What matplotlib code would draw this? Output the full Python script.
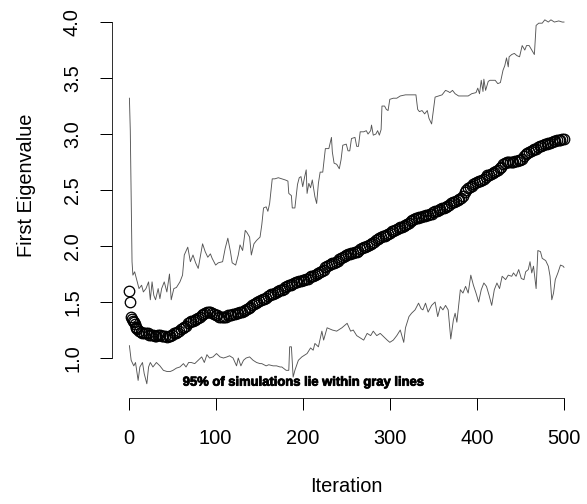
import matplotlib
matplotlib.use("Agg")
import matplotlib.pyplot as plt
import matplotlib.patheffects as pe

# First eigenvalue over iterations, with 95% simulation band
meanIter = [1, 2, 3, 4, 5, 6, 7, 8, 9] + list(range(10, 501, 2))
meanVal = [1.60, 1.50, 1.37, 1.35, 1.33, 1.32, 1.30, 1.28, 1.27,
           1.26, 1.24, 1.23, 1.22, 1.22, 1.22, 1.22, 1.21, 1.21, 1.21,
           1.20, 1.20, 1.21, 1.21, 1.20, 1.20, 1.20, 1.19, 1.20, 1.20,
           1.21, 1.22, 1.22, 1.23, 1.24, 1.26, 1.27, 1.28, 1.29, 1.31,
           1.32, 1.33, 1.33, 1.34, 1.35, 1.36, 1.37, 1.38, 1.39, 1.40,
           1.41, 1.41, 1.41, 1.40, 1.39, 1.38, 1.38, 1.37, 1.37, 1.37,
           1.37, 1.37, 1.38, 1.38, 1.38, 1.39, 1.39, 1.40, 1.40, 1.41,
           1.41, 1.42, 1.43, 1.44, 1.45, 1.46, 1.47, 1.48, 1.49, 1.50,
           1.51, 1.52, 1.53, 1.53, 1.54, 1.55, 1.56, 1.57, 1.57, 1.58,
           1.59, 1.60, 1.61, 1.61, 1.62, 1.63, 1.64, 1.65, 1.65, 1.66,
           1.67, 1.68, 1.68, 1.69, 1.69, 1.70, 1.70, 1.71, 1.71, 1.72,
           1.73, 1.73, 1.74, 1.75, 1.76, 1.77, 1.78, 1.79, 1.81, 1.82,
           1.83, 1.84, 1.85, 1.85, 1.86, 1.87, 1.88, 1.89, 1.90, 1.91,
           1.92, 1.93, 1.93, 1.94, 1.94, 1.95, 1.95, 1.96, 1.97, 1.98,
           1.99, 1.99, 2.00, 2.01, 2.02, 2.03, 2.04, 2.05, 2.06, 2.07,
           2.08, 2.09, 2.09, 2.10, 2.11, 2.12, 2.13, 2.13, 2.14, 2.15,
           2.16, 2.17, 2.17, 2.18, 2.19, 2.20, 2.21, 2.22, 2.23, 2.24,
           2.25, 2.25, 2.26, 2.26, 2.27, 2.27, 2.28, 2.28, 2.29, 2.29,
           2.30, 2.31, 2.31, 2.32, 2.33, 2.34, 2.34, 2.35, 2.36, 2.37,
           2.38, 2.39, 2.39, 2.40, 2.41, 2.42, 2.43, 2.45, 2.48, 2.50,
           2.52, 2.53, 2.54, 2.55, 2.56, 2.57, 2.58, 2.58, 2.59, 2.60,
           2.62, 2.63, 2.63, 2.64, 2.65, 2.66, 2.67, 2.68, 2.70, 2.71,
           2.73, 2.74, 2.75, 2.75, 2.75, 2.75, 2.75, 2.76, 2.76, 2.77,
           2.77, 2.78, 2.80, 2.82, 2.83, 2.84, 2.85, 2.86, 2.87, 2.87,
           2.88, 2.89, 2.89, 2.90, 2.91, 2.91, 2.92, 2.92, 2.93, 2.94,
           2.94, 2.95, 2.95, 2.95, 2.96, 2.96]

upperIter = [1, 2, 4, 5, 7, 10, 12, 15, 17, 20, 23, 25, 27, 29, 31, 34, 36, 38, 41, 44, 47, 49, 52,
             55, 59, 62, 64, 68, 71, 74, 77, 80, 82, 85, 88, 91, 94, 96, 100, 103, 108, 111, 114,
             117, 119, 123, 126, 128, 131, 134, 136, 139, 141, 144, 147, 151, 153, 155, 158, 160,
             162, 165, 168, 172, 176, 180, 183, 184, 187, 188, 191, 194, 196, 198, 200, 202, 204,
             205, 207, 209, 211, 214, 216, 218, 220, 223, 226, 230, 233, 234, 236, 239, 242, 244,
             246, 250, 252, 254, 256, 260, 262, 264, 266, 270, 273, 275, 278, 279, 281, 284, 286,
             288, 290, 291, 294, 296, 298, 300, 304, 308, 312, 318, 325, 330, 332, 334, 337, 340,
             343, 345, 348, 350, 352, 356, 360, 364, 367, 369, 372, 375, 379, 385, 390, 394, 399,
             401, 403, 405, 407, 408, 410, 413, 415, 418, 421, 424, 427, 430, 432, 434, 436, 437,
             440, 443, 446, 449, 452, 455, 457, 460, 463, 466, 468, 471, 475, 478, 482, 485, 489,
             494, 498, 500]
upperVal = [3.32, 3.03, 1.86, 1.74, 1.77, 1.68, 1.62, 1.65, 1.59, 1.62, 1.68, 1.52, 1.68, 1.56, 1.52,
            1.62, 1.53, 1.62, 1.68, 1.59, 1.75, 1.52, 1.62, 1.63, 1.68, 1.74, 1.92, 1.99, 1.86, 1.92,
            1.85, 1.80, 1.89, 2.02, 1.95, 1.90, 1.93, 1.89, 1.83, 1.85, 1.86, 1.98, 2.07, 1.95, 1.85,
            1.83, 1.92, 2.01, 1.96, 2.14, 2.12, 2.08, 1.92, 2.02, 2.05, 2.08, 2.19, 2.34, 2.35, 2.31,
            2.38, 2.60, 2.60, 2.61, 2.60, 2.59, 2.58, 2.47, 2.45, 2.34, 2.34, 2.55, 2.61, 2.62, 2.53,
            2.61, 2.68, 2.47, 2.56, 2.52, 2.59, 2.44, 2.38, 2.56, 2.66, 2.66, 2.87, 2.87, 2.97, 2.84,
            2.74, 2.73, 2.69, 2.77, 2.90, 2.91, 2.85, 2.85, 2.96, 2.97, 2.89, 2.89, 3.02, 3.02, 3.03,
            3.00, 3.03, 3.08, 2.99, 3.00, 3.03, 2.99, 3.04, 3.25, 3.25, 3.22, 3.21, 3.31, 3.32, 3.32,
            3.34, 3.35, 3.35, 3.35, 3.22, 3.20, 3.21, 3.18, 3.21, 3.14, 3.09, 3.21, 3.33, 3.34, 3.35,
            3.39, 3.38, 3.37, 3.39, 3.36, 3.34, 3.34, 3.34, 3.36, 3.37, 3.41, 3.36, 3.48, 3.38, 3.49,
            3.39, 3.47, 3.48, 3.48, 3.48, 3.45, 3.46, 3.57, 3.61, 3.68, 3.60, 3.69, 3.71, 3.72, 3.70,
            3.69, 3.79, 3.75, 3.79, 3.79, 3.75, 3.71, 3.97, 3.99, 3.99, 4.02, 4.00, 4.02, 4.00, 4.01,
            4.00, 4.00]

lowerIter = [1, 3, 6, 8, 11, 13, 16, 18, 21, 23, 25, 28, 32, 36, 40, 44, 48, 51, 55, 59, 63, 66, 69,
             72, 76, 80, 84, 87, 90, 93, 97, 101, 105, 109, 113, 116, 120, 124, 126, 129, 132, 135,
             139, 143, 147, 151, 153, 158, 161, 166, 170, 174, 176, 181, 184, 185, 187, 189, 191,
             195, 199, 205, 209, 212, 214, 218, 222, 224, 228, 234, 239, 245, 251, 255, 258, 262,
             266, 270, 274, 278, 281, 285, 289, 293, 297, 300, 304, 308, 312, 316, 318, 322, 325,
             329, 333, 336, 338, 341, 344, 348, 352, 355, 358, 361, 364, 367, 370, 373, 375, 377,
             381, 384, 387, 390, 393, 396, 399, 402, 405, 408, 411, 414, 417, 420, 423, 426, 429,
             433, 436, 440, 442, 445, 448, 451, 454, 456, 459, 461, 463, 465, 468, 470, 473, 475,
             479, 482, 484, 486, 488, 490, 493, 496, 499, 500]
lowerVal = [1.11, 0.98, 0.93, 0.96, 0.80, 0.92, 0.96, 0.86, 0.77, 0.92, 0.96, 0.92, 0.96, 0.93, 0.89,
            0.88, 0.88, 0.89, 0.91, 0.92, 0.95, 0.92, 0.96, 0.96, 0.95, 0.98, 1.01, 0.96, 1.03, 1.00,
            1.01, 1.04, 1.01, 1.00, 1.01, 1.02, 1.00, 0.93, 1.00, 0.93, 0.98, 1.00, 1.01, 0.98, 0.96,
            0.95, 0.95, 0.93, 0.94, 0.93, 0.93, 0.92, 0.92, 0.89, 0.89, 1.10, 1.10, 0.83, 0.89, 0.98,
            1.01, 1.04, 1.09, 1.07, 1.13, 1.10, 1.24, 1.16, 1.27, 1.25, 1.24, 1.27, 1.31, 1.24, 1.25,
            1.20, 1.18, 1.16, 1.22, 1.20, 1.24, 1.20, 1.22, 1.19, 1.16, 1.14, 1.16, 1.20, 1.25, 1.14,
            1.27, 1.37, 1.40, 1.43, 1.49, 1.44, 1.43, 1.49, 1.41, 1.47, 1.50, 1.37, 1.46, 1.43, 1.47,
            1.43, 1.17, 1.34, 1.40, 1.32, 1.61, 1.58, 1.64, 1.58, 1.74, 1.65, 1.58, 1.50, 1.61, 1.67,
            1.64, 1.56, 1.47, 1.61, 1.67, 1.62, 1.73, 1.70, 1.74, 1.73, 1.76, 1.73, 1.79, 1.71, 1.70,
            1.77, 1.79, 1.86, 1.76, 1.82, 1.62, 1.96, 1.95, 1.89, 1.87, 1.82, 1.73, 1.52, 1.58, 1.70,
            1.76, 1.83, 1.82, 1.81]

xTicks = [0, 100, 200, 300, 400, 500]
yTicks = [1.0, 1.5, 2.0, 2.5, 3.0, 3.5, 4.0]
note = "95% of simulations lie within gray lines"

plt.rcParams["font.family"] = ["Liberation Sans", "DejaVu Sans"]

# Figure at 72 dpi so points == pixels
fig = plt.figure(figsize=(587/72, 504/72), dpi=72)
ax = fig.add_axes([112/587, 106/504, 469.4/587, 390.5/504])

# Simulation envelope and mean
ax.plot(upperIter, upperVal, color="#555555", lw=0.9)
ax.plot(lowerIter, lowerVal, color="#555555", lw=0.9)
ax.plot(meanIter, meanVal, linestyle="none", marker="o", markersize=10.5,
        markerfacecolor="none", markeredgecolor="black", markeredgewidth=1.3)

ax.text(200, 0.78, note, ha="center", va="center", fontsize=13, fontweight="bold",
        path_effects=[pe.withStroke(linewidth=0.8, foreground="black")])

# R-style detached axes
ax.set_xlim(-19, 520)
ax.set_ylim(0.643, 4.13)
for s in ["top", "right"]:
    ax.spines[s].set_visible(False)
ax.spines["left"].set_bounds(1.0, 4.0)
ax.spines["bottom"].set_bounds(0, 500)
ax.set_xticks(xTicks)
ax.set_yticks(yTicks)
ax.set_yticklabels(["%.1f" % v for v in yTicks], rotation=90, va="center")
ax.tick_params(axis="both", length=12, width=1, labelsize=20)
ax.tick_params(axis="x", pad=19)
ax.tick_params(axis="y", pad=18)

# Axis titles placed like R's mtext
fig.text(346.5/587, 1 - 487/504, "Iteration", fontsize=20, ha="center", va="center")
fig.text(27/587, 1 - 185/504, "First Eigenvalue", fontsize=20, ha="center", va="center",
         rotation=90)

fig.savefig("out.png", dpi=72)
